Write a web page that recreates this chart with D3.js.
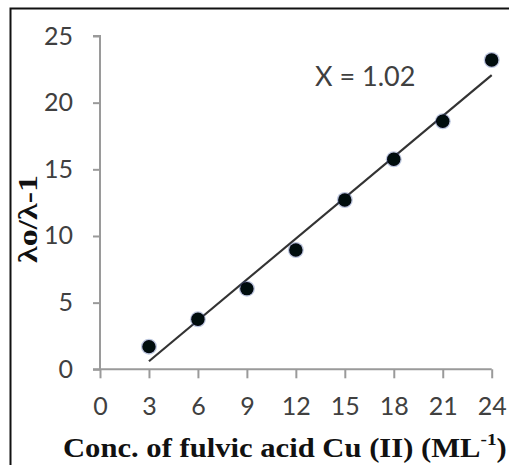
<!DOCTYPE html>
<html><head><meta charset="utf-8">
<script src="https://cdn.jsdelivr.net/npm/d3@7"></script>
<style>
html,body{margin:0;padding:0;background:#fff;}
svg{display:block;}
</style></head>
<body>
<svg id="c" width="509" height="465"></svg>
<script>
const concentrations = [3, 6, 9, 12, 15, 18, 21, 24];
const ratioValues = [1.7, 3.75, 6.05, 8.95, 12.7, 15.75, 18.6, 23.2];
const xTicks = [0, 3, 6, 9, 12, 15, 18, 21, 24];
const yTicks = [0, 5, 10, 15, 20, 25];
const annotationText = "X = 1.02";

const svg = d3.select("#c");
const pLeft = 100, pRight = 491.7, pTop = 36, pBottom = 369.3;

const x = d3.scaleLinear().domain([0, 24]).range([pLeft, pRight]);
const y = d3.scaleLinear().domain([0, 25]).range([pBottom, pTop]);

// frame
svg.append("rect").attr("x", 10.5).attr("y", 8.5).attr("width", 520).attr("height", 480)
  .attr("fill", "#fff").attr("stroke", "#111").attr("stroke-width", 2);

const axisColor = "#9a9a9a";
const labelFont = "Lato, 'Open Sans', sans-serif";

// y axis
const yAxis = d3.axisLeft(y).tickValues(yTicks).tickSize(7).tickPadding(20)
  .tickFormat(d3.format("d"));
const gy = svg.append("g").attr("transform", `translate(${pLeft},0)`).call(yAxis);
gy.select(".domain").attr("stroke", axisColor).attr("stroke-width", 2)
  .attr("d", `M-7,${pTop}H0V${pBottom}`);
gy.selectAll(".tick line").attr("stroke", axisColor).attr("stroke-width", 2);
gy.selectAll(".tick text").attr("fill", "#404040").attr("font-size", 25)
  .attr("font-family", labelFont);

// x axis
const xAxis = d3.axisBottom(x).tickValues(xTicks).tickSize(9).tickPadding(19)
  .tickFormat(d3.format("d"));
const gx = svg.append("g").attr("transform", `translate(0,${pBottom})`).call(xAxis);
gx.select(".domain").attr("stroke", axisColor).attr("stroke-width", 2)
  .attr("d", `M${pLeft - 7},0H${pRight}`);
gx.selectAll(".tick line").attr("stroke", axisColor).attr("stroke-width", 2);
gx.selectAll(".tick text").attr("fill", "#404040").attr("font-size", 25)
  .attr("font-family", labelFont);

// trend line (least squares from data)
const n = concentrations.length;
const mx = d3.mean(concentrations), my = d3.mean(ratioValues);
let sxy = 0, sxx = 0;
for (let i = 0; i < n; i++) {
  sxy += (concentrations[i] - mx) * (ratioValues[i] - my);
  sxx += (concentrations[i] - mx) ** 2;
}
const slope = sxy / sxx, icpt = my - slope * mx;
const x0 = d3.min(concentrations), x1 = d3.max(concentrations);
svg.append("line")
  .attr("x1", x(x0)).attr("y1", y(slope * x0 + icpt))
  .attr("x2", x(x1)).attr("y2", y(slope * x1 + icpt))
  .attr("stroke", "#333").attr("stroke-width", 2.2);

// points
const defs = svg.append("defs");
const f = defs.append("filter").attr("id", "soft").attr("x", "-50%").attr("y", "-50%")
  .attr("width", "200%").attr("height", "200%");
f.append("feGaussianBlur").attr("stdDeviation", 0.7);

svg.append("g").selectAll("circle").data(concentrations).join("circle")
  .attr("cx", d => x(d)).attr("cy", (d, i) => y(ratioValues[i]))
  .attr("r", 8).attr("fill", "#3a5a9a").attr("opacity", 0.35);
svg.append("g").selectAll("circle").data(concentrations).join("circle")
  .attr("cx", d => x(d)).attr("cy", (d, i) => y(ratioValues[i]))
  .attr("r", 6.7).attr("fill", "#05070f").attr("filter", "url(#soft)");

// annotation
svg.append("text").attr("x", 315).attr("y", 86)
  .attr("font-family", labelFont).attr("font-size", 27).attr("fill", "#404040")
  .text(annotationText);

const serif = "'Liberation Serif', 'Times New Roman', serif";

// x title, stretched to the reference width
const xtg = svg.append("g");
const xt = xtg.append("text").attr("x", 0).attr("y", 0)
  .attr("font-family", serif)
  .attr("font-weight", "bold").attr("font-size", 27).attr("fill", "#111");
xt.append("tspan").text("Conc. of fulvic acid Cu (II) (ML");
xt.append("tspan").attr("font-size", 17).attr("dy", -12).text("-1");
xt.append("tspan").attr("dy", 12).text(")");
const xw = xt.node().getBBox().width;
xtg.attr("transform", `translate(63,457) scale(${444 / xw},1)`);

// y title, stretched along its length
const ytg = svg.append("g");
const yt = ytg.append("text").attr("x", 0).attr("y", 0)
  .attr("font-family", serif)
  .attr("font-weight", "bold").attr("font-size", 28).attr("fill", "#111")
  .text("λo/λ-1");
const yw = yt.node().getBBox().width;
ytg.attr("transform", `translate(37,263) rotate(-90) scale(${88 / yw},1)`);
</script>
</body></html>
